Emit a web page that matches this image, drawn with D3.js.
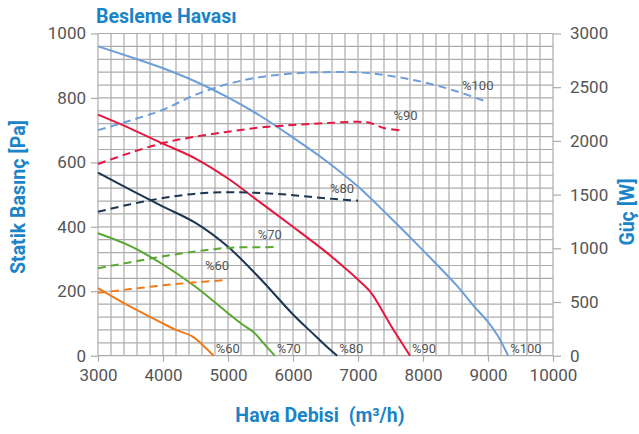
<!DOCTYPE html>
<html>
<head>
<meta charset="utf-8">
<script src="https://cdn.jsdelivr.net/npm/d3@7"></script>
<style>
  html, body { margin: 0; padding: 0; background: #fff; }
  svg { display: block; }
</style>
</head>
<body>
<div id="chart"></div>
<script>
// ── Data ─────────────────────────────────────────────────────────────────────
const X_TICKS  = [3000, 4000, 5000, 6000, 7000, 8000, 9000, 10000];
const YL_TICKS = [0, 200, 400, 600, 800, 1000];
const YR_TICKS = [0, 500, 1000, 1500, 2000, 2500, 3000];

const SPEEDS = ['%100', '%90', '%80', '%70', '%60'];

// static pressure [Pa] vs airflow [m³/h]
const P100 = [[3000,960],[3500,927],[4000,892],[4500,851],[5000,802],[5500,744],[6000,677],[6500,606],[7000,525],[7500,428],[8000,327],[8500,222],[8800,150],[9000,105],[9150,62],[9310,0]];
const P90  = [[3000,748],[3500,705],[4000,658],[4500,612],[5000,550],[5500,475],[6000,400],[6500,323],[6800,272],[7000,236],[7200,196],[7400,130],[7500,95],[7800,0]];
const P80  = [[3000,568],[3500,515],[4000,463],[4500,412],[5000,338],[5500,238],[6000,128],[6300,70],[6500,32],[6680,0]];
const P70  = [[3000,380],[3500,340],[4000,283],[4500,214],[5000,132],[5200,100],[5400,72],[5550,38],[5720,0]];
const P60  = [[3000,210],[3500,152],[4000,100],[4200,80],[4450,60],[4600,35],[4780,0]];

// power [W] vs airflow [m³/h]
const W100 = [[3000,2100],[3500,2190],[4000,2290],[4500,2430],[5000,2530],[5500,2595],[6000,2628],[6500,2640],[7000,2638],[7500,2605],[8000,2548],[8500,2465],[9000,2360]];
const W90  = [[3000,1785],[3500,1890],[4000,1980],[4500,2040],[5000,2085],[5500,2125],[6000,2148],[6500,2165],[7000,2178],[7200,2165],[7400,2120],[7700,2095]];
const W80  = [[3000,1340],[3500,1410],[4000,1468],[4500,1508],[5000,1522],[5500,1515],[6000,1495],[6500,1466],[7000,1443]];
const W70  = [[3000,815],[3500,870],[4000,925],[4500,970],[5000,1005],[5500,1010],[5750,1012]];
const W60  = [[3000,585],[3500,620],[4000,655],[4500,683],[5000,705]];

const COLORS = { '%100': '#6c9fd9', '%90': '#e5173f', '%80': '#1c3553', '%70': '#5aa733', '%60': '#ef7a1a' };

const series = [
  { name: '%100', p: P100, w: W100 },
  { name: '%90',  p: P90,  w: W90  },
  { name: '%80',  p: P80,  w: W80  },
  { name: '%70',  p: P70,  w: W70  },
  { name: '%60',  p: P60,  w: W60  },
];

// ── Layout ───────────────────────────────────────────────────────────────────
const W = 639, H = 434;
const BLUE = '#1a84c6';
const TXT  = '#555';
const FONT = 'Roboto, "Liberation Sans", sans-serif';

const x  = d3.scaleLinear().domain([3000, 10000]).range([98, 553]);
const yL = d3.scaleLinear().domain([0, 1000]).range([355.7, 33.5]);
const yR = d3.scaleLinear().domain([0, 3000]).range([355.7, 33.5]);

const svg = d3.select('#chart').append('svg')
  .attr('width', W).attr('height', H)
  .style('font-family', FONT);

// grid
const grid = svg.append('g').attr('stroke', '#ababab').attr('stroke-width', 1.2);
grid.selectAll('line.v').data(d3.range(3000, 10001, 200)).join('line')
  .attr('x1', d => x(d)).attr('x2', d => x(d))
  .attr('y1', yL(1000)).attr('y2', yL(0));
grid.selectAll('line.h').data(d3.range(0, 1001, 40)).join('line')
  .attr('x1', x(3000)).attr('x2', x(10000))
  .attr('y1', d => yL(d)).attr('y2', d => yL(d));

// axes
function styleAxis(g) {
  g.select('.domain').remove();
  g.selectAll('.tick line').attr('stroke', '#ababab').attr('stroke-width', 1.2);
  g.selectAll('.tick text').attr('fill', TXT).style('font-size', '17px').style('font-family', FONT);
}

svg.append('g')
  .attr('transform', `translate(0,${yL(0)})`)
  .call(d3.axisBottom(x).tickValues(X_TICKS).tickSize(6).tickPadding(7).tickFormat(d3.format('d')))
  .call(styleAxis);

svg.append('g')
  .attr('transform', `translate(${x(3000)},0)`)
  .call(d3.axisLeft(yL).tickValues(YL_TICKS).tickSize(7).tickPadding(5).tickFormat(d3.format('d')))
  .call(styleAxis);

svg.append('g')
  .attr('transform', `translate(${x(10000)},0)`)
  .call(d3.axisRight(yR).tickValues(YR_TICKS).tickSize(8).tickPadding(9).tickFormat(d3.format('d')))
  .call(styleAxis);

// curves
const lineP = d3.line().x(d => x(d[0])).y(d => yL(d[1])).curve(d3.curveCatmullRom.alpha(0.5));
const lineW = d3.line().x(d => x(d[0])).y(d => yR(d[1])).curve(d3.curveCatmullRom.alpha(0.5));

const curves = svg.append('g').attr('fill', 'none').attr('stroke-width', 2);
series.forEach(s => {
  curves.append('path').attr('d', lineW(s.w))
    .attr('stroke', COLORS[s.name]).attr('stroke-dasharray', '8,5');
  curves.append('path').attr('d', lineP(s.p))
    .attr('stroke', COLORS[s.name]);
});

// curve labels
const labels = svg.append('g').attr('fill', TXT).style('font-size', '13px');
series.forEach(s => {
  const endP = s.p[s.p.length - 1];
  labels.append('text')
    .attr('x', x(endP[0]) + 2).attr('y', yL(endP[1]) - 3)
    .text(s.name);
});
// power-curve labels sit above the tail of each dashed line
const W_LABEL_OFFSET = { '%100': [-26, -12], '%90': [-10, -11], '%80': [-28, -8], '%70': [-19, -8], '%60': [-23, -10] };
series.forEach(s => {
  const endW = s.w[s.w.length - 1];
  const [dx, dy] = W_LABEL_OFFSET[s.name];
  labels.append('text')
    .attr('x', x(endW[0]) + dx).attr('y', yR(endW[1]) + dy)
    .text(s.name);
});

// titles
svg.append('text')
  .attr('x', 96).attr('y', 23)
  .attr('fill', BLUE).style('font-size', '19.5px').style('font-weight', 700)
  .text('Besleme Havası');

svg.append('text')
  .attr('x', 320).attr('y', 422).attr('text-anchor', 'middle')
  .attr('fill', BLUE).style('font-size', '19.5px').style('font-weight', 700)
  .attr('xml:space', 'preserve')
  .text('Hava Debisi  (m³/h)');

svg.append('text')
  .attr('transform', 'translate(25,197) rotate(-90)').attr('text-anchor', 'middle')
  .attr('fill', BLUE).style('font-size', '19.5px').style('font-weight', 700)
  .text('Statik Basınç [Pa]');

svg.append('text')
  .attr('transform', 'translate(634,212) rotate(-90)').attr('text-anchor', 'middle')
  .attr('fill', BLUE).style('font-size', '19.5px').style('font-weight', 700)
  .text('Güç [W]');
</script>
</body>
</html>
